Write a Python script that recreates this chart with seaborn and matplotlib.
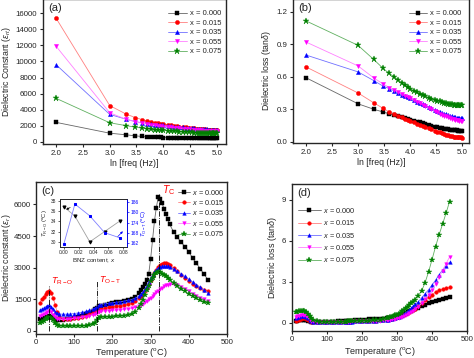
import numpy as np
import pandas as pd
import seaborn as sns
import matplotlib.pyplot as plt

sns.set_style("ticks")
plt.rcParams['font.family'] = ['Liberation Sans', 'DejaVu Sans']
plt.rcParams['mathtext.fontset'] = 'custom'
plt.rcParams['mathtext.rm'] = 'Liberation Sans'
plt.rcParams['mathtext.it'] = 'Liberation Sans:italic'
plt.rcParams['axes.linewidth'] = 1.0

# ---------------- data ----------------
compositions = ["0.000", "0.015", "0.035", "0.055", "0.075"]
colors = ["#000000", "#ff0000", "#0000ff", "#ff00ff", "#008000"]
line_colors = ["#666666", "#ff8080", "#7070ff", "#ff80ff", "#60b060"]
markers = ["s", "o", "^", "v", "*"]

# frequency points (kHz)
freq_khz = [0.1, 1, 2, 3, 4, 5, 6, 7, 8, 9, 10, 12, 14, 16, 18, 20, 23, 26, 30,
            34, 38, 42, 46, 50, 55, 60, 65, 70, 75, 80, 85, 90, 95, 100]

eps_a_000 = [2400, 1050, 850, 720, 640, 590, 560, 540, 530, 520, 510, 500, 495, 490, 485, 482, 478,
             475, 472, 469, 466, 464, 462, 460, 458, 456, 455, 454, 453, 452, 451, 450, 449, 448]
eps_a_015 = [15400, 4500, 3450, 3000, 2750, 2580, 2450, 2350, 2280, 2220, 2170, 2090, 2020, 1970, 1920,
             1880, 1830, 1790, 1740, 1700, 1660, 1630, 1600, 1580, 1550, 1520, 1500, 1480, 1460, 1445,
             1430, 1415, 1400, 1390]
eps_a_035 = [9600, 3400, 2800, 2500, 2350, 2250, 2180, 2120, 2080, 2040, 2010, 1960, 1920, 1880, 1850,
             1820, 1780, 1750, 1710, 1680, 1650, 1630, 1600, 1580, 1560, 1540, 1520, 1510, 1495, 1485,
             1475, 1465, 1455, 1450]
eps_a_055 = [11900, 3600, 2800, 2480, 2300, 2180, 2090, 2020, 1970, 1920, 1880, 1820, 1770, 1730, 1690,
             1650, 1610, 1570, 1530, 1500, 1470, 1440, 1420, 1400, 1380, 1360, 1345, 1330, 1320, 1310,
             1300, 1290, 1280, 1270]
eps_a_075 = [5400, 2350, 2000, 1800, 1690, 1610, 1550, 1500, 1460, 1430, 1400, 1360, 1330, 1300, 1270,
             1250, 1220, 1200, 1170, 1150, 1130, 1115, 1100, 1090, 1075, 1065, 1055, 1045, 1040, 1035,
             1030, 1025, 1020, 1015]

tan_b_000 = [0.59, 0.35, 0.30, 0.275, 0.258, 0.245, 0.235, 0.226, 0.218, 0.211, 0.205, 0.195, 0.186,
             0.179, 0.171, 0.164, 0.155, 0.147, 0.139, 0.133, 0.127, 0.123, 0.119, 0.116, 0.113, 0.111,
             0.109, 0.107, 0.105, 0.104, 0.103, 0.102, 0.101, 0.100]
tan_b_015 = [0.69, 0.45, 0.36, 0.31, 0.275, 0.255, 0.238, 0.225, 0.213, 0.203, 0.194, 0.180, 0.166,
             0.155, 0.145, 0.136, 0.124, 0.114, 0.103, 0.094, 0.085, 0.078, 0.071, 0.066, 0.060, 0.055,
             0.051, 0.048, 0.045, 0.043, 0.041, 0.040, 0.039, 0.038]
tan_b_035 = [0.80, 0.645, 0.565, 0.515, 0.49, 0.468, 0.45, 0.435, 0.422, 0.41, 0.40, 0.385, 0.37,
             0.357, 0.345, 0.335, 0.322, 0.31, 0.297, 0.285, 0.275, 0.267, 0.259, 0.252, 0.245, 0.239,
             0.234, 0.23, 0.226, 0.223, 0.22, 0.218, 0.216, 0.215]
tan_b_055 = [0.92, 0.70, 0.59, 0.535, 0.50, 0.478, 0.458, 0.44, 0.425, 0.412, 0.40, 0.383, 0.367,
             0.353, 0.34, 0.328, 0.313, 0.30, 0.285, 0.272, 0.26, 0.25, 0.241, 0.233, 0.225, 0.218,
             0.212, 0.207, 0.203, 0.2, 0.197, 0.195, 0.193, 0.192]
tan_b_075 = [1.115, 0.89, 0.76, 0.68, 0.63, 0.60, 0.57, 0.545, 0.525, 0.505, 0.49, 0.47, 0.455, 0.44,
             0.428, 0.42, 0.408, 0.397, 0.388, 0.38, 0.372, 0.366, 0.36, 0.355, 0.35, 0.347, 0.344,
             0.342, 0.34, 0.339, 0.338, 0.338, 0.338, 0.338]

# temperature points (deg C)
temp_c = [10, 15, 20, 25, 30, 35, 40, 45, 50, 55, 60,
          70, 80, 90, 100, 110, 120, 130, 140, 150,
          155, 160, 165, 170,
          180, 190, 200, 210, 220, 230, 240, 250, 260, 270,
          275, 280, 285, 290, 295, 300, 305, 310, 315, 320, 325, 330, 335, 340, 345, 350,
          360, 370, 380, 390, 400, 410, 420, 430, 440, 450]

eps_c_000 = [560, 580, 600, 640, 680, 700, 660, 600, 560, 530, 520,
             520, 540, 570, 610, 660, 720, 790, 870, 960,
             1030, 1100, 1160, 1200,
             1240, 1280, 1310, 1350, 1390, 1430, 1480, 1530, 1620, 1800,
             1930, 2080, 2200, 2400, 2700, 3400, 4300, 5200, 5850, 6350, 6250, 6050, 5800, 5550, 5300, 5050,
             4700, 4450, 4200, 4000, 3750, 3450, 3200, 2950, 2680, 2430]
eps_c_015 = [1300, 1500, 1620, 1760, 1860, 1900, 1800, 1560, 1250, 900, 680,
             560, 540, 560, 590, 630, 670, 720, 780, 850,
             900, 960, 1000, 1040,
             1080, 1110, 1140, 1170, 1200, 1230, 1270, 1320, 1420, 1560,
             1650, 1760, 1900, 2050, 2220, 2400, 2580, 2750, 2900, 3020, 3120, 3190, 3230, 3220, 3180, 3120,
             2980, 2820, 2650, 2500, 2360, 2240, 2130, 2040, 1960, 1890]
eps_c_035 = [990, 1030, 1080, 1140, 1190, 1210, 1150, 1020, 900, 830, 800,
             790, 790, 800, 820, 850, 880, 920, 970, 1030,
             1080, 1150, 1210, 1250,
             1290, 1310, 1330, 1350, 1380, 1410, 1440, 1480, 1550, 1660,
             1750, 1860, 2000, 2150, 2320, 2500, 2660, 2800, 2900, 2980, 3040, 3070, 3080, 3080, 3060, 3030,
             2950, 2840, 2710, 2580, 2450, 2320, 2190, 2060, 1930, 1810]
eps_c_055 = [720, 760, 800, 860, 910, 930, 880, 760, 650, 580, 550,
             540, 550, 570, 590, 610, 640, 680, 720, 770,
             810, 860, 900, 920,
             940, 955, 970, 985, 1000, 1020, 1040, 1070, 1110, 1180,
             1230, 1290, 1350, 1420, 1500, 1580, 1660, 1740, 1820, 1900, 1980, 2050, 2110, 2160, 2190, 2210,
             2210, 2170, 2090, 1990, 1880, 1770, 1670, 1580, 1500, 1420]
eps_c_075 = [380, 420, 470, 540, 600, 630, 600, 500, 390, 300, 250,
             220, 210, 210, 220, 230, 240, 250, 270, 310,
             380, 500, 600, 640,
             660, 670, 680, 690, 700, 720, 740, 790, 900, 1100,
             1280, 1480, 1700, 1930, 2150, 2350, 2520, 2660, 2760, 2800, 2780, 2720, 2650, 2580, 2500, 2430,
             2280, 2140, 2000, 1870, 1750, 1640, 1540, 1450, 1390, 1340]

tan_d_000 = [0.10, 0.12, 0.15, 0.18, 0.20, 0.20, 0.18, 0.14, 0.10, 0.07, 0.05,
             0.04, 0.04, 0.04, 0.05, 0.06, 0.07, 0.08, 0.09, 0.10,
             0.11, 0.12, 0.13, 0.14,
             0.15, 0.17, 0.19, 0.21, 0.23, 0.25, 0.26, 0.27, 0.28, 0.30,
             0.31, 0.33, 0.35, 0.37, 0.40, 0.43, 0.47, 0.52, 0.58, 0.64, 0.70, 0.76, 0.82, 0.88, 0.94, 1.00,
             1.10, 1.20, 1.30, 1.40, 1.48, 1.56, 1.64, 1.72, 1.80, 1.88]
tan_d_015 = [0.10, 0.15, 0.22, 0.27, 0.30, 0.30, 0.27, 0.20, 0.12, 0.07, 0.04,
             0.03, 0.03, 0.03, 0.03, 0.04, 0.04, 0.05, 0.05, 0.06,
             0.06, 0.07, 0.07, 0.08,
             0.08, 0.09, 0.10, 0.11, 0.12, 0.13, 0.14, 0.16, 0.18, 0.21,
             0.23, 0.25, 0.28, 0.31, 0.34, 0.38, 0.42, 0.47, 0.52, 0.58, 0.64, 0.71, 0.78, 0.86, 0.94, 1.02,
             1.20, 1.40, 1.62, 1.85, 2.05, 2.22, 2.35, 2.45, 2.52, 2.57]
tan_d_035 = [0.35, 0.38, 0.42, 0.45, 0.47, 0.46, 0.40, 0.30, 0.18, 0.10, 0.06,
             0.04, 0.03, 0.03, 0.03, 0.03, 0.04, 0.04, 0.05, 0.05,
             0.06, 0.06, 0.07, 0.07,
             0.08, 0.08, 0.09, 0.10, 0.11, 0.12, 0.13, 0.15, 0.17, 0.20,
             0.22, 0.24, 0.27, 0.30, 0.33, 0.37, 0.42, 0.48, 0.55, 0.63, 0.72, 0.82, 0.93, 1.05, 1.18, 1.32,
             1.50, 1.80, 2.10, 2.40, 2.75, 3.10, 3.50, 3.85, 4.15, 4.40]
tan_d_055 = [0.40, 0.45, 0.50, 0.55, 0.58, 0.57, 0.50, 0.38, 0.25, 0.14, 0.08,
             0.05, 0.04, 0.04, 0.04, 0.04, 0.04, 0.05, 0.05, 0.06,
             0.06, 0.07, 0.07, 0.08,
             0.08, 0.09, 0.09, 0.10, 0.11, 0.12, 0.13, 0.14, 0.16, 0.18,
             0.20, 0.22, 0.24, 0.26, 0.29, 0.32, 0.35, 0.39, 0.43, 0.48, 0.54, 0.61, 0.69, 0.78, 0.88, 0.99,
             1.15, 1.40, 1.70, 2.00, 2.35, 2.80, 3.30, 3.80, 4.30, 4.80]
tan_d_075 = [0.75, 0.78, 0.82, 0.85, 0.86, 0.85, 0.78, 0.65, 0.48, 0.30, 0.18,
             0.08, 0.05, 0.04, 0.04, 0.04, 0.04, 0.05, 0.05, 0.06,
             0.07, 0.08, 0.08, 0.09,
             0.10, 0.11, 0.12, 0.13, 0.14, 0.16, 0.18, 0.21, 0.25, 0.30,
             0.33, 0.37, 0.41, 0.46, 0.52, 0.58, 0.65, 0.73, 0.82, 0.92, 1.03, 1.15, 1.28, 1.40, 1.52, 1.65,
             1.95, 2.30, 2.90, 3.70, 4.60, 5.55, 6.40, 7.20, 8.00, 8.85]

# inset: transition temperatures vs BNZ content
bnz_content = [0.000, 0.015, 0.035, 0.055, 0.075]
t_ro_inset = [36.8, 35.0, 30.0, 32.0, 34.0]
t_ot_inset = [161, 185, 178, 168, 165]

# transition markers in panel (c): temperature, height of dash-dot line
t_lines = [35, 160, 323]
t_line_tops = [2150, 2350, 6500]

panels = {
    "a": [eps_a_000, eps_a_015, eps_a_035, eps_a_055, eps_a_075],
    "b": [tan_b_000, tan_b_015, tan_b_035, tan_b_055, tan_b_075],
    "c": [eps_c_000, eps_c_015, eps_c_035, eps_c_055, eps_c_075],
    "d": [tan_d_000, tan_d_015, tan_d_035, tan_d_055, tan_d_075],
}
log_freq = np.log10(np.array(freq_khz) * 1000)

# ---------------- figure ----------------
W, H = 474, 358
fig = plt.figure(figsize=(W / 100, H / 100), dpi=100)


def px_axes(left, top, right, bottom):
    return fig.add_axes([left / W, 1 - bottom / H, (right - left) / W, (bottom - top) / H])


ax_a = px_axes(42.7, -1, 226, 144)
ax_b = px_axes(292.7, -1, 469, 143)
ax_c = px_axes(36, 182.3, 227, 334)
ax_d = px_axes(292, 184, 467, 330.7)


def draw_series(ax, x, ys, labels, ms=3.0):
    for y, lab, c, lc, m in zip(ys, labels, colors, line_colors, markers):
        sns.lineplot(x=x, y=y, ax=ax, color=lc, lw=0.6, marker=m,
                     markersize=ms * (1.5 if m == "*" else 1.0),
                     markerfacecolor=c, markeredgecolor=c, markeredgewidth=0.3,
                     label=lab, errorbar=None, sort=False)


def style_axes(ax, fs=5.7, pad=1.5):
    ax.tick_params(direction="out", length=2.5, width=0.8, labelsize=fs, pad=pad)
    for s in ax.spines.values():
        s.set_visible(True)
        s.set_linewidth(1.0)


lab_up = ["x = " + c for c in compositions]
lab_it = ["$x$ = " + c for c in compositions]

# (a)
draw_series(ax_a, log_freq, panels["a"], lab_up)
ax_a.set_xlim(1.75, 5.17)
ax_a.set_ylim(-300, 17800)
ax_a.set_xticks([2.0, 2.5, 3.0, 3.5, 4.0, 4.5, 5.0])
ax_a.set_yticks(range(0, 16001, 2000))
ax_a.set_xlabel("ln [freq (Hz)]", fontsize=6.3, labelpad=2)
ax_a.set_ylabel(r"Dielectric Constant ($\varepsilon_{rt}$)", fontsize=6.3, labelpad=1.5)
ax_a.text(0.03, 0.97, "(a)", transform=ax_a.transAxes, fontsize=8, va="top")
ax_a.legend(loc="upper right", bbox_to_anchor=(0.99, 0.945), frameon=False, fontsize=5.5,
            handlelength=2.4, labelspacing=0.28, borderaxespad=0, handletextpad=0.4)
style_axes(ax_a)

# (b)
draw_series(ax_b, log_freq, panels["b"], lab_up)
ax_b.set_xlim(1.74, 5.14)
ax_b.set_ylim(-0.012, 1.318)
ax_b.set_xticks([2.0, 2.5, 3.0, 3.5, 4.0, 4.5, 5.0])
ax_b.set_yticks([0.0, 0.3, 0.6, 0.9, 1.2])
ax_b.set_xlabel("ln [freq (Hz)]", fontsize=6.3, labelpad=2)
ax_b.set_ylabel(r"Dielectric loss (tan$\delta$)", fontsize=6.3, labelpad=2)
ax_b.text(0.03, 0.97, "(b)", transform=ax_b.transAxes, fontsize=8, va="top")
ax_b.legend(loc="upper right", bbox_to_anchor=(0.975, 0.945), frameon=False, fontsize=5.5,
            handlelength=2.4, labelspacing=0.28, borderaxespad=0, handletextpad=0.4)
style_axes(ax_b)

# (c)
draw_series(ax_c, temp_c, panels["c"], lab_it, ms=2.6)
ax_c.set_xlim(0, 500)
ax_c.set_ylim(-150, 7050)
ax_c.set_xticks(range(0, 501, 100))
ax_c.set_yticks([0, 1500, 3000, 4500, 6000])
ax_c.set_xlabel(r"Temperature ($^{\rm o}$C)", fontsize=6.6, labelpad=0)
ax_c.set_ylabel(r"Dielectric constant ($\varepsilon_r$)", fontsize=6.4, labelpad=0.3)
ax_c.text(0.03, 0.975, "(c)", transform=ax_c.transAxes, fontsize=8, va="top")
ax_c.vlines(t_lines, 0, t_line_tops, colors="k", linestyles="-.", lw=0.6)
ax_c.text(38, 2250, r"$T_{\rm R-O}$", color="red", fontsize=6.5)
ax_c.text(166, 2300, r"$T_{\rm O-T}$", color="red", fontsize=6.5)
ax_c.text(330, 6550, r"$T_{\rm C}$", color="red", fontsize=7.5)
ax_c.legend(loc="upper right", bbox_to_anchor=(1.005, 0.985), frameon=False, fontsize=5.3,
            handlelength=1.6, labelspacing=0.2, borderaxespad=0, handletextpad=0.3)
style_axes(ax_c, fs=5.7, pad=1)

# inset of (c)
ins = px_axes(60, 199, 127, 247)
sns.lineplot(x=bnz_content, y=t_ro_inset, ax=ins, color="#a0a0a0", lw=0.6, marker="v",
             markersize=2.2, markerfacecolor="k", markeredgecolor="k", errorbar=None, sort=False)
ins.set_xlim(-0.005, 0.085)
ins.set_ylim(29.0, 38.3)
ins.set_xticks([0.00, 0.02, 0.04, 0.06, 0.08])
ins.set_yticks([30, 32, 34, 36, 38])
ins.set_xticklabels(["0.00", "0.02", "0.04", "0.06", "0.08"])
ins.set_xlabel("BNZ content, $x$", fontsize=4.5, labelpad=1)
ins.set_ylabel(r"$T_{\rm R-O}$ ($^{\rm o}$C)", fontsize=4.2, labelpad=0.5)
ins.tick_params(direction="out", length=1.5, width=0.5, labelsize=3.5, pad=1)
ins2 = ins.twinx()
sns.lineplot(x=bnz_content, y=t_ot_inset, ax=ins2, color="#8080ff", lw=0.6, marker="s",
             markersize=2.0, markerfacecolor="#0000ff", markeredgecolor="#0000ff",
             errorbar=None, sort=False)
ins2.set_ylim(159.5, 188)
ins2.set_yticks([162, 168, 174, 180, 186])
ins2.set_ylabel(r"$T_{\rm O-T}$ ($^{\rm o}$C)", fontsize=4.2, labelpad=0.5, color="#0000ff")
ins2.tick_params(axis="y", direction="out", length=1.5, width=0.5, labelsize=3.5, pad=1,
                 colors="#0000ff")
for s in list(ins.spines.values()) + list(ins2.spines.values()):
    s.set_visible(True)
    s.set_linewidth(0.6)
ins2.spines["right"].set_color("#0000ff")
ins.annotate("", xy=(0.0, 36.0), xytext=(0.012, 36.9),
             arrowprops=dict(arrowstyle="-|>", color="k", lw=0.5, mutation_scale=3))
ins2.annotate("", xy=(0.082, 170), xytext=(0.07, 164.5),
              arrowprops=dict(arrowstyle="-|>", color="#0000ff", lw=0.5, mutation_scale=3))

# (d)
draw_series(ax_d, temp_c, panels["d"], lab_it, ms=2.6)
ax_d.set_xlim(0, 500)
ax_d.set_ylim(-0.6, 10.15)
ax_d.set_xticks(range(0, 501, 100))
ax_d.set_yticks([0, 3, 6, 9])
ax_d.set_xlabel(r"Temperature ($^{\rm o}$C)", fontsize=6.5, labelpad=1)
ax_d.set_ylabel(r"Dielectric loss (tan$\delta$)", fontsize=6.5, labelpad=2)
ax_d.text(0.03, 0.975, "(d)", transform=ax_d.transAxes, fontsize=8, va="top")
ax_d.legend(loc="upper left", bbox_to_anchor=(0.02, 0.87), frameon=False, fontsize=5.3,
            handlelength=3.0, labelspacing=0.45, borderaxespad=0, handletextpad=0.4)
style_axes(ax_d)

fig.savefig("out.png", dpi=100)
